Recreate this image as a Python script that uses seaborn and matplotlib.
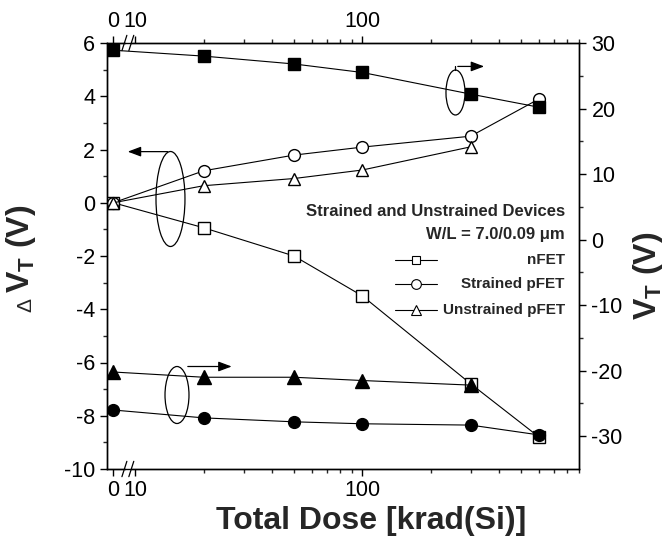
import numpy as np
import pandas as pd
import matplotlib
matplotlib.use("Agg")
import matplotlib.pyplot as plt
import matplotlib.transforms as mtransforms
from matplotlib.patches import Ellipse, Rectangle
from matplotlib.lines import Line2D
import seaborn as sns

# Total dose steps in krad(Si); zero dose sits left of the axis break
dose = [0, 20, 50, 100, 300, 600]
zero_pos = 8.0

# Threshold-voltage shift (left axis, V)
dvt_nfet = [0.0, -0.94, -2.0, -3.5, -6.8, -8.8]
dvt_strained = [0.0, 1.2, 1.79, 2.09, 2.5, 3.9]
dvt_unstrained = [0.0, 0.64, 0.91, 1.23, 2.1]

# Absolute threshold voltage (right axis, V)
vt_nfet = [28.9, 28.0, 26.8, 25.5, 22.2, 20.2]
vt_unstrained = [-20.2, -21.0, -21.0, -21.5, -22.2]
vt_strained = [-26.0, -27.2, -27.8, -28.1, -28.3, -29.8]

xtick_vals = [0, 10, 100]
xtick_labels = ["0", "10", "100"]
legend_labels = ["nFET", "Strained pFET", "Unstrained pFET"]

sns.set_style("ticks")
plt.rcParams["font.family"] = ["Liberation Sans", "DejaVu Sans"]
plt.rcParams["axes.unicode_minus"] = False
plt.rcParams["mathtext.fontset"] = "custom"
plt.rcParams["mathtext.rm"] = "Liberation Sans"
plt.rcParams["mathtext.bf"] = "Liberation Sans:bold"


def xpos(values):
    return [zero_pos if v == 0 else v for v in values]


fig = plt.figure(figsize=(6.67, 5.44), dpi=100)
W, H = 667, 544
ax = fig.add_axes([107 / W, 1 - 469 / H, 472 / W, 426 / H])
ax2 = ax.twinx()

line_kw = dict(color="black", linewidth=0.8, markeredgewidth=1.0,
               markeredgecolor="black", zorder=3)

df_open = [
    (dvt_nfet, "s"),
    (dvt_strained, "o"),
    (dvt_unstrained, "^"),
]
for vals, mk in df_open:
    d = pd.DataFrame({"x": xpos(dose[:len(vals)]), "y": vals})
    sns.lineplot(data=d, x="x", y="y", ax=ax, marker=mk, markerfacecolor="white",
                 markersize=9 if mk == "^" else 8.5, **line_kw)

df_filled = [
    (vt_nfet, "s"),
    (vt_unstrained, "^"),
    (vt_strained, "o"),
]
for vals, mk in df_filled:
    d = pd.DataFrame({"x": xpos(dose[:len(vals)]), "y": vals})
    sns.lineplot(data=d, x="x", y="y", ax=ax2, marker=mk, markerfacecolor="black",
                 markersize=9.5 if mk == "^" else 8.5, **line_kw)

ax.set_xscale("log")
ax.set_xlim(7.5, 900)
ax.set_ylim(-10, 6)
ax2.set_ylim(-35, 30)

ax.set_xticks(xpos(xtick_vals))
ax.set_xticklabels(xtick_labels)
ax.set_xticks([20, 30, 40, 50, 60, 70, 80, 90, 200, 300, 400, 500, 600, 700, 800, 900], minor=True)
ax.xaxis.set_minor_formatter(matplotlib.ticker.NullFormatter())
ax.set_yticks(np.arange(-10, 7, 2))
ax.set_yticks(np.arange(-9, 6, 2), minor=True)
ax2.set_yticks(np.arange(-30, 31, 10))
ax2.set_yticks(np.arange(-25, 30, 10), minor=True)

for a in (ax, ax2):
    a.set_xlabel("")
    a.set_ylabel("")
    for s in a.spines.values():
        s.set_visible(True)
        s.set_linewidth(1.0)
        s.set_color("black")
    a.tick_params(which="major", direction="out", length=5, width=1.0, labelsize=15.5,
                  colors="black")
    a.tick_params(which="minor", direction="out", length=3, width=1.0)
ax.tick_params(axis="x", which="both", top=True, labeltop=True, bottom=True, labelbottom=True)
ax.tick_params(axis="x", which="major", pad=3)
ax2.tick_params(axis="y", which="major", pad=4)

# Axis break between zero dose and 10 krad
blend = mtransforms.blended_transform_factory(ax.transData, ax.transAxes)
ax.axvspan(9.05, 9.55, color="white", zorder=2.2, lw=0)
for yb in (0.0, 1.0):
    ax.add_patch(Rectangle((9.05, yb - 0.006), 0.5, 0.012, transform=blend,
                           facecolor="white", edgecolor="none", clip_on=False, zorder=2.6))
    for xb in (8.95, 9.6):
        ax.plot([xb * 0.975, xb * 1.025], [yb - 0.018, yb + 0.018], transform=blend,
                color="black", lw=0.9, clip_on=False, zorder=2.7)

# Group markers: ellipses with arrows pointing to the relevant axis
ell_kw = dict(transform=ax.transAxes, fill=False, edgecolor="black", linewidth=0.9, zorder=4)
ax.add_patch(Ellipse((0.1345, 0.6338), 0.0614, 0.223, **ell_kw))
ax.add_patch(Ellipse((0.7383, 0.8838), 0.0403, 0.1056, **ell_kw))
ax.add_patch(Ellipse((0.1483, 0.1737), 0.0508, 0.1338, **ell_kw))
arr_kw = dict(arrowstyle="-|>,head_length=0.8,head_width=0.3", color="black", lw=0.9)
ax.annotate("", xy=(0.038, 0.745), xytext=(0.1345, 0.745), xycoords="axes fraction",
            arrowprops=arr_kw)
ax.annotate("", xy=(0.805, 0.945), xytext=(0.7373, 0.945), xycoords="axes fraction",
            arrowprops=arr_kw)
ax.plot([0.7383, 0.7383], [0.9366, 0.945], transform=ax.transAxes, color="black",
        lw=0.9, zorder=4)
ax.annotate("", xy=(0.27, 0.2406), xytext=(0.1653, 0.2406), xycoords="axes fraction",
            arrowprops=arr_kw)

# Legend block
tx = 0.970
ax.text(tx, 0.6056, "Strained and Unstrained Devices", transform=ax.transAxes,
        ha="right", va="center", fontsize=12, fontweight="bold")
ax.text(tx, 0.5493, "W/L = 7.0/0.09 \u03bcm", transform=ax.transAxes,
        ha="right", va="center", fontsize=12, fontweight="bold")
rows = [0.4906, 0.4343, 0.3732]
marks = ["s", "o", "^"]
msz = [5.5, 7, 7]
for yv, mk, ms, lab in zip(rows, marks, msz, legend_labels):
    ax.add_line(Line2D([0.610, 0.699], [yv, yv], transform=ax.transAxes, color="black",
                       lw=0.8, zorder=4))
    ax.add_line(Line2D([0.6547], [yv], transform=ax.transAxes, marker=mk, markersize=ms,
                       markerfacecolor="white", markeredgecolor="black",
                       markeredgewidth=0.8, lw=0, zorder=5))
    ax.text(tx, yv, lab, transform=ax.transAxes, ha="right", va="center",
            fontsize=11, fontweight="bold")

# Axis titles
fig.text(371 / W, 1 - 521 / H, "Total Dose [krad(Si)]", ha="center", va="center",
         fontsize=23, fontweight="bold")
fig.text(26 / W, 1 - 305 / H, "\u0394", rotation=90, ha="center", va="center",
         fontsize=15)
fig.text(21 / W, 1 - 249 / H, r"$\mathbf{V_T}$ (V)", rotation=90, ha="center",
         va="center", fontsize=23, fontweight="bold")
fig.text(648 / W, 1 - 276 / H, r"$\mathbf{V_T}$ (V)", rotation=90, ha="center",
         va="center", fontsize=23, fontweight="bold")

fig.savefig("out.png", dpi=100)
